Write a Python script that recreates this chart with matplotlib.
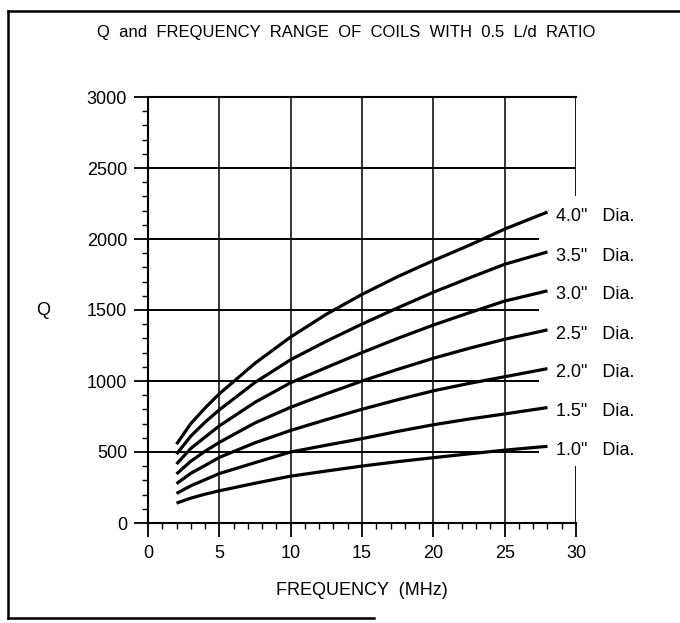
"""
Q and frequency range of coils with 0.5 L/d ratio (scanned chart redraw).
"""
import matplotlib
matplotlib.use("Agg")
import matplotlib.pyplot as plt
from matplotlib.lines import Line2D
from matplotlib.ticker import MultipleLocator

# frequency points (MHz)
FREQ = [2, 3, 4, 5, 7.5, 10, 12.5, 15, 17.5, 20, 22.5, 25, 28]

# Q values per coil diameter
Q_40 = [555, 700, 810, 910, 1125, 1310, 1470, 1610, 1735, 1848, 1955, 2070, 2190]
Q_35 = [485, 612, 710, 797, 990, 1150, 1280, 1401, 1515, 1625, 1725, 1822, 1909]
Q_30 = [415, 525, 605, 684, 850, 988, 1095, 1200, 1300, 1394, 1480, 1563, 1635]
Q_25 = [345, 435, 505, 568, 705, 815, 910, 1000, 1082, 1160, 1230, 1294, 1360]
Q_20 = [277, 350, 405, 462, 565, 652, 728, 801, 868, 931, 983, 1030, 1087]
Q_15 = [208, 262, 305, 348, 425, 500, 548, 594, 645, 692, 732, 768, 813]
Q_10 = [140, 175, 203, 227, 280, 330, 366, 401, 432, 460, 487, 513, 540]

DIAMETERS = ['4.0', '3.5', '3.0', '2.5', '2.0', '1.5', '1.0']
SERIES = [Q_40, Q_35, Q_30, Q_25, Q_20, Q_15, Q_10]

plt.rcParams['font.family'] = ['Liberation Sans', 'DejaVu Sans']

W, H = 680, 623
fig = plt.figure(figsize=(W / 100, H / 100), dpi=100)
ax = fig.add_axes([148 / W, 100 / H, 428 / W, 426 / H])

ax.set_xlim(0, 30)
ax.set_ylim(0, 3000)

# grid: horizontal lines stop short of the curve labels
for q in [500, 1000, 1500, 2000]:
    ax.hlines(q, 0, 27.4, color="black", lw=1.4, zorder=1)
ax.hlines(2500, 0, 30, color="black", lw=1.4, zorder=1)
for f in [5, 10, 15, 20, 25]:
    ax.vlines(f, 0, 3000, color="black", lw=1.1, zorder=1)
# right border only drawn in pieces
ax.vlines(30, 2300, 3000, color="black", lw=1.3, zorder=1)
ax.vlines(30, 0, 400, color="black", lw=1.3, zorder=1)

for dia, q in zip(DIAMETERS, SERIES):
    ax.plot(FREQ, q, color="black", lw=2.3, solid_capstyle="butt", zorder=3)
    ax.annotate(f'{dia}"   Dia.', xy=(FREQ[-1], q[-1]), xytext=(6, -3),
                textcoords="offset points", ha="left", va="center",
                fontsize=13, annotation_clip=False)

ax.spines["right"].set_visible(False)
for side in ["left", "bottom", "top"]:
    ax.spines[side].set_linewidth(1.5)

ax.xaxis.set_major_locator(MultipleLocator(5))
ax.xaxis.set_minor_locator(MultipleLocator(1))
ax.yaxis.set_major_locator(MultipleLocator(500))
ax.yaxis.set_minor_locator(MultipleLocator(100))
ax.tick_params(which="major", direction="out", length=10, width=1.3,
               labelsize=13, pad=6)
ax.tick_params(which="minor", direction="out", length=4.5, width=1.0)
ax.tick_params(axis="y", pad=5)

ax.set_xlabel("FREQUENCY  (MHz)", fontsize=13, labelpad=14)
fig.text(43 / W, 1 - 311 / H, "Q", fontsize=13, ha="center", va="center")
fig.text(346 / W, 1 - 32 / H, "Q  and  FREQUENCY  RANGE  OF  COILS  WITH  0.5  L/d  RATIO",
         fontsize=12, ha="center", va="center")

# outer frame of the scanned figure
fig.add_artist(Line2D([8 / W, 8 / W], [1 - 618 / H, 1 - 11 / H], color="black", lw=1.8))
fig.add_artist(Line2D([8 / W, 1.0], [1 - 11 / H, 1 - 11 / H], color="black", lw=1.8))
fig.add_artist(Line2D([8 / W, 374 / W], [1 - 618 / H, 1 - 618 / H], color="black", lw=1.8))

fig.savefig("out.png", dpi=100)
